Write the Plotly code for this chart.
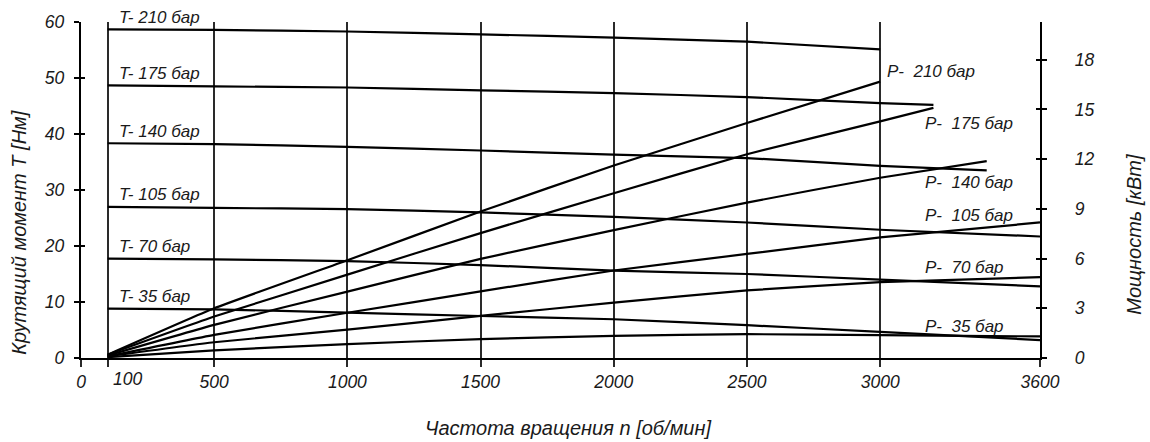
import plotly.graph_objects as go

# ---- data ----
pressures = [210, 175, 140, 105, 70, 35]

t_rpm = {
    210: [100, 500, 1000, 1500, 2000, 2500, 3000],
    175: [100, 500, 1000, 1500, 2000, 2500, 3000, 3200],
    140: [100, 500, 1000, 1500, 2000, 2500, 3000, 3400],
    105: [100, 500, 1000, 1500, 2000, 2500, 3000, 3600],
    70:  [100, 500, 1000, 1500, 2000, 2500, 3000, 3600],
    35:  [100, 500, 1000, 1500, 2000, 2500, 3000, 3600],
}
torque = {
    210: [58.7, 58.6, 58.3, 57.8, 57.2, 56.5, 55.1],
    175: [48.7, 48.5, 48.3, 47.8, 47.3, 46.6, 45.5, 45.2],
    140: [38.35, 38.2, 37.7, 37.05, 36.3, 35.7, 34.3, 33.5],
    105: [27.0, 26.8, 26.6, 26.0, 25.2, 24.2, 22.9, 21.7],
    70:  [17.75, 17.6, 17.3, 16.6, 15.6, 15.0, 14.0, 12.8],
    35:  [8.8, 8.7, 8.1, 7.5, 6.92, 5.86, 4.67, 3.2],
}
power = {
    210: [0.2, 3.0, 5.9, 8.84, 11.62, 14.18, 16.68],
    175: [0.2, 2.5, 5.03, 7.54, 9.94, 12.3, 14.28, 15.1],
    140: [0.15, 2.0, 4.01, 5.98, 7.72, 9.38, 10.88, 11.88],
    105: [0.1, 1.4, 2.73, 4.02, 5.28, 6.28, 7.28, 8.18],
    70:  [0.1, 0.95, 1.71, 2.54, 3.34, 4.08, 4.58, 4.88],
    35:  [0.05, 0.46, 0.84, 1.14, 1.34, 1.44, 1.38, 1.3],
}

x_ticks = [0, 100, 500, 1000, 1500, 2000, 2500, 3000, 3600]
x_ticktext = ["0", "", "500", "1000", "1500", "2000", "2500", "3000", "3600"]
y_ticks = [0, 10, 20, 30, 40, 50, 60]
y2_ticks = [0, 3, 6, 9, 12, 15, 18]

# label anchors for power labels (rpm, kW)
p_label_pos = {210: (3019, 17.3), 175: (3160, 14.18), 140: (3160, 10.6),
               105: (3160, 8.58), 70: (3160, 5.46), 35: (3160, 1.88)}

FONT = "Liberation Sans, Arial, sans-serif"
INK = "#1a1a1a"
FS_LBL = 17
FS_TICK = 17.5
FS_TITLE = 20

fig = go.Figure()
for p in pressures:
    fig.add_trace(go.Scatter(x=t_rpm[p], y=torque[p], mode="lines",
                             line=dict(color="black", width=2.2, shape="spline", smoothing=0.4),
                             yaxis="y", showlegend=False, hoverinfo="skip"))
    fig.add_trace(go.Scatter(x=t_rpm[p], y=power[p], mode="lines",
                             line=dict(color="black", width=2.2, shape="spline", smoothing=0.4),
                             yaxis="y2", showlegend=False, hoverinfo="skip"))

lblfont = dict(family=FONT, size=FS_LBL, color=INK, style="italic")
annotations = []
for p in pressures:
    annotations.append(dict(x=135, y=torque[p][0], xref="x", yref="y", yshift=12,
                            text=f"T- {p} бар", showarrow=False,
                            xanchor="left", yanchor="middle", font=lblfont))
    px, py = p_label_pos[p]
    annotations.append(dict(x=px, y=py, xref="x", yref="y2",
                            text=f"P-\u00a0 {p} бар", showarrow=False,
                            xanchor="left", yanchor="middle", font=lblfont))

# "100" tick label is offset to the right of its tick in the reference
annotations.append(dict(x=100, y=0, xref="x", yref="y", text="100", showarrow=False,
                        xanchor="center", yanchor="top", xshift=20, yshift=-9,
                        font=dict(family=FONT, size=FS_TICK, color=INK, style="italic")))
# axis titles (pixel positions converted to paper coords below)
titlefont = dict(family=FONT, size=FS_TITLE, color=INK, style="italic")
titles = [
    dict(x=568, y=428, text="Частота вращения n [об/мин]", textangle=0),
    dict(x=19, y=232, text="Крутящий момент T [Нм]", textangle=-90),
    dict(x=1134, y=234, text="Мощность [кВт]", textangle=-90),
]
L, R, T, B = 81, 110, 20, 84
W, H = 1150, 442
pw, ph = W - L - R, H - T - B
for t in titles:
    annotations.append(dict(x=(t["x"] - L) / pw, y=1 - (t["y"] - T) / ph,
                            xref="paper", yref="paper", text=t["text"], textangle=t["textangle"],
                            showarrow=False, xanchor="center", yanchor="middle", font=titlefont))

tickfont = dict(family=FONT, size=FS_TICK, color=INK, style="italic")

fig.update_layout(
    width=W, height=H,
    margin=dict(l=L, r=R, t=T, b=B, pad=0),
    paper_bgcolor="white", plot_bgcolor="white",
    showlegend=False,
    annotations=annotations,
    xaxis=dict(range=[0, 3600], tickvals=x_ticks, ticktext=x_ticktext,
               showgrid=True, gridcolor="#2a2a2a", gridwidth=1.6,
               showline=True, linecolor="black", linewidth=2.4,
               ticks="outside", ticklen=7, tickwidth=1.6, tickcolor="#2a2a2a",
               ticklabelstandoff=0, tickfont=tickfont, zeroline=False, fixedrange=True),
    yaxis=dict(range=[0, 60], tickvals=y_ticks, showgrid=False, zeroline=False,
               showline=True, linecolor="black", linewidth=2.4,
               ticks="outside", ticklen=5, tickwidth=1.6, tickcolor="black",
               ticklabelstandoff=6, tickfont=tickfont),
    yaxis2=dict(range=[0, 20.28], tickvals=y2_ticks, overlaying="y", side="right",
                showgrid=False, zeroline=False,
                showline=True, linecolor="black", linewidth=2.4,
                ticks="outside", ticklen=5, tickwidth=1.6, tickcolor="black",
                ticklabelstandoff=24, tickfont=tickfont),
    yaxis3=dict(range=[0, 60], tickvals=y_ticks, overlaying="y", side="left",
                showgrid=False, zeroline=False, showline=False, showticklabels=False,
                ticks="inside", ticklen=4, tickwidth=1.6, tickcolor="black"),
    yaxis4=dict(range=[0, 20.28], tickvals=y2_ticks, overlaying="y", side="right",
                showgrid=False, zeroline=False, showline=False, showticklabels=False,
                ticks="inside", ticklen=4, tickwidth=1.6, tickcolor="black"),
)
# invisible traces to activate the tick-only overlay axes
fig.add_trace(go.Scatter(x=[0], y=[0], yaxis="y3", mode="markers", marker=dict(opacity=0),
                         showlegend=False, hoverinfo="skip"))
fig.add_trace(go.Scatter(x=[0], y=[0], yaxis="y4", mode="markers", marker=dict(opacity=0),
                         showlegend=False, hoverinfo="skip"))

fig.write_html("out.html", config={"displayModeBar": False})
